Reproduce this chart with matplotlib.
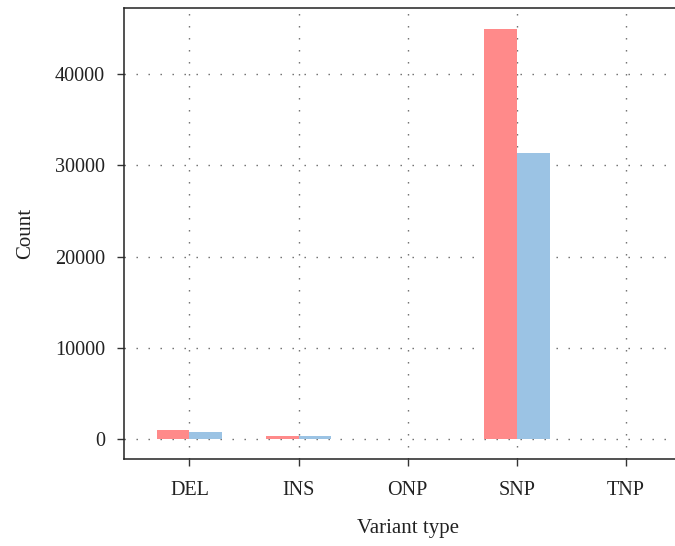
import numpy as np
import matplotlib
matplotlib.use('Agg')
import matplotlib.pyplot as plt

# data
variant_types = ['DEL', 'INS', 'ONP', 'SNP', 'TNP']
count_a = [950, 300, 8, 44960, 5]
count_b = [730, 290, 6, 31390, 4]
y_ticks = [0, 10000, 20000, 30000, 40000]

plt.rcParams['font.family'] = ['Liberation Serif', 'DejaVu Serif']

fig = plt.figure(figsize=(6.75, 5.46), dpi=100)
# right edge of the panel runs past the figure edge, as in the reference
ax = fig.add_axes([124 / 675, 1 - 459.3 / 546, 567.5 / 675, 451.0 / 546])

x = np.arange(1, len(variant_types) + 1)
w = 0.3

# dotted grid at major ticks, behind the bars
for xv in x:
    ax.axvline(xv, color='#666666', lw=1.0, dashes=(1, 7.64), zorder=0)
for yv in y_ticks:
    ax.axhline(yv, color='#666666', lw=1.0, dashes=(1, 7.64), zorder=0)

ax.bar(x - w / 2, count_a, width=w, color='#FF8A8A', zorder=2)
ax.bar(x + w / 2, count_b, width=w, color='#9BC3E4', zorder=2)

ax.set_xlim(0.4, 5.6)
ax.set_ylim(-2250, 47250)
ax.set_xticks(x)
ax.set_xticklabels(variant_types)
ax.set_yticks(y_ticks)
ax.set_yticklabels([str(v) for v in y_ticks])

ax.tick_params(axis='both', direction='out', length=5, width=1, color='#333333',
               labelsize=14.5, labelcolor='#222222')
ax.tick_params(axis='x', pad=10.6)
ax.tick_params(axis='y', pad=8.6)
for s in ax.spines.values():
    s.set_linewidth(1.1)
    s.set_color('#222222')

ax.set_xlabel('Variant type', fontsize=15, color='#222222', labelpad=14)
ax.set_ylabel('Count', fontsize=15, color='#222222', labelpad=14)

fig.savefig('out.png', dpi=100)
